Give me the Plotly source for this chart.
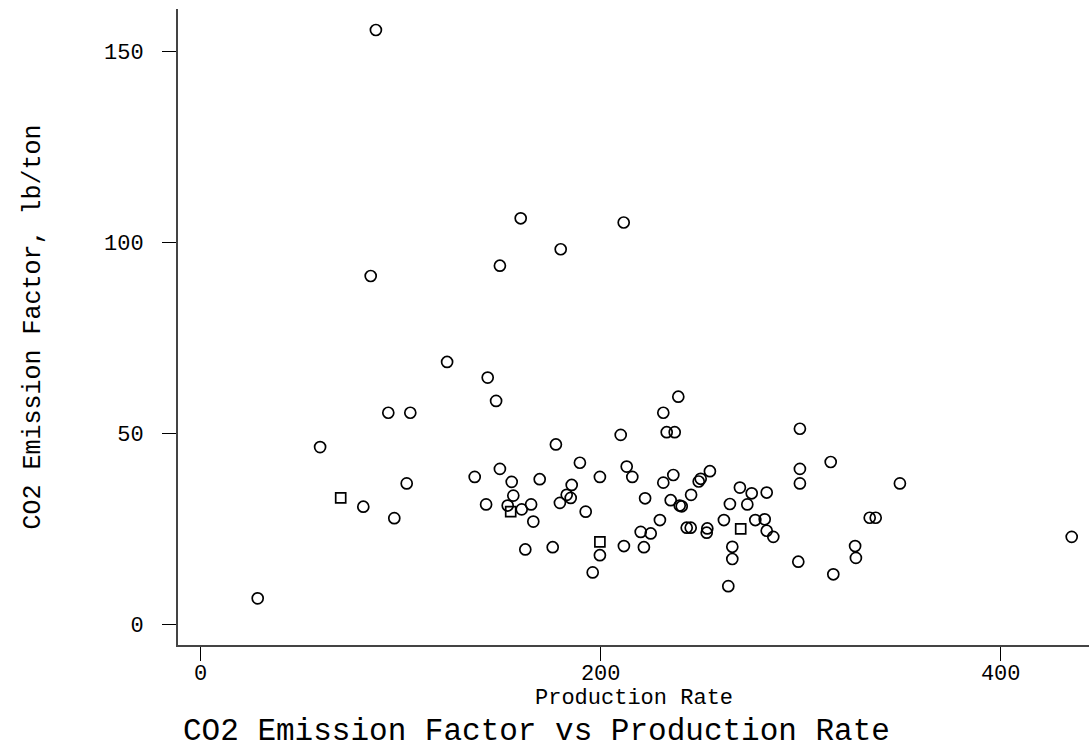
import plotly.graph_objects as go

# Circle-marked observations (production rate, CO2 emission factor)
circle_rate = [87.6, 160, 211.5, 85, 149.6, 180, 123.2, 143.5, 147.7, 93.8, 104.8, 238.8, 231.3,
               59.7, 137, 149.6, 155.5, 169.5, 103, 81.3, 96.8, 142.7, 156.3, 153.5, 160.5, 165.2,
               166.3, 162.3, 28.5, 233, 237, 210, 299.6, 177.6, 315, 299.6, 299.6, 189.6, 199.6,
               213, 215.8, 185.5, 183, 185, 179.6, 192.5, 222.2, 231.3, 236.3, 249, 250, 254.6,
               245.2, 235, 239.5, 240.5, 229.6, 220, 225, 199.6, 196, 211.6, 221.6, 176, 243, 245,
               253.3, 253, 261.6, 264.6, 269.6, 275.5, 273.3, 283, 277.3, 282, 283, 286.3, 265.8,
               265.8, 263.8, 298.8, 316.3, 349.6, 334.5, 337.5, 327.2, 327.6, 435.5]
circle_factor = [155.7, 106.4, 105.3, 91.3, 94.0, 98.3, 68.8, 64.7, 58.6, 55.5, 55.5, 59.7, 55.5,
                 46.5, 38.7, 40.8, 37.4, 38.1, 37.0, 30.9, 27.9, 31.5, 33.8, 31.2, 30.2, 31.5,
                 27.0, 19.7, 6.9, 50.4, 50.4, 49.7, 51.3, 47.2, 42.6, 40.8, 37.0, 42.4, 38.7,
                 41.4, 38.7, 36.6, 34.0, 33.2, 31.9, 29.6, 33.1, 37.2, 39.2, 37.5, 38.2, 40.2,
                 34.0, 32.6, 31.2, 31.0, 27.4, 24.3, 23.9, 18.2, 13.7, 20.6, 20.3, 20.3, 25.4, 25.4,
                 25.2, 24.1, 27.4, 31.6, 35.9, 34.4, 31.5, 34.6, 27.4, 27.6, 24.6, 23.0, 20.4,
                 17.2, 10.1, 16.5, 13.2, 37.0, 28.0, 28.0, 20.6, 17.5, 23.0]

# Square-marked observations
square_rate = [70, 155, 199.6, 270]
square_factor = [33.2, 29.6, 21.7, 25.1]

x_ticks = [0, 200, 400]
y_ticks = [0, 50, 100, 150]

FONT = "Liberation Mono"

fig = go.Figure()
fig.add_trace(go.Scatter(
    x=circle_rate, y=circle_factor, mode="markers",
    marker=dict(symbol="circle-open", size=11, color="black", line=dict(width=1.7, color="black")),
    showlegend=False,
))
fig.add_trace(go.Scatter(
    x=square_rate, y=square_factor, mode="markers",
    marker=dict(symbol="square-open", size=10, color="black", line=dict(width=1.7, color="black")),
    showlegend=False,
))

axis_common = dict(
    showgrid=False, zeroline=False, showline=True, linecolor="#444444", linewidth=2,
    ticks="outside", ticklen=14, tickwidth=1.2, tickcolor="black",
    tickfont=dict(family=FONT, size=22, color="black"),
)

fig.update_layout(
    width=1089, height=754,
    margin=dict(l=178, r=0, t=9, b=109),
    paper_bgcolor="white", plot_bgcolor="white",
    title=dict(text="CO2 Emission Factor vs Production Rate", xref="container", yref="container",
               x=183 / 1089, xanchor="left", y=1 - 729 / 754, yanchor="middle",
               font=dict(family=FONT, size=31, color="black")),
    xaxis=dict(range=[-11.35, 444.15], tickvals=x_ticks, ticktext=[str(v) for v in x_ticks],
               ticklabelstandoff=-7, **axis_common),
    yaxis=dict(range=[-5.31, 161.2], tickvals=y_ticks, ticktext=[str(v) for v in y_ticks],
               ticklabelstandoff=14,
               title=dict(text="CO2 Emission Factor, lb/ton", standoff=56,
                          font=dict(family=FONT, size=25, color="black")),
               **axis_common),
    annotations=[dict(text="Production Rate", xref="paper", yref="paper",
                      x=0.5, y=-(698 - 645) / 636, xanchor="center", yanchor="middle",
                      showarrow=False, font=dict(family=FONT, size=22, color="black"))],
)

fig.write_html("out.html")
